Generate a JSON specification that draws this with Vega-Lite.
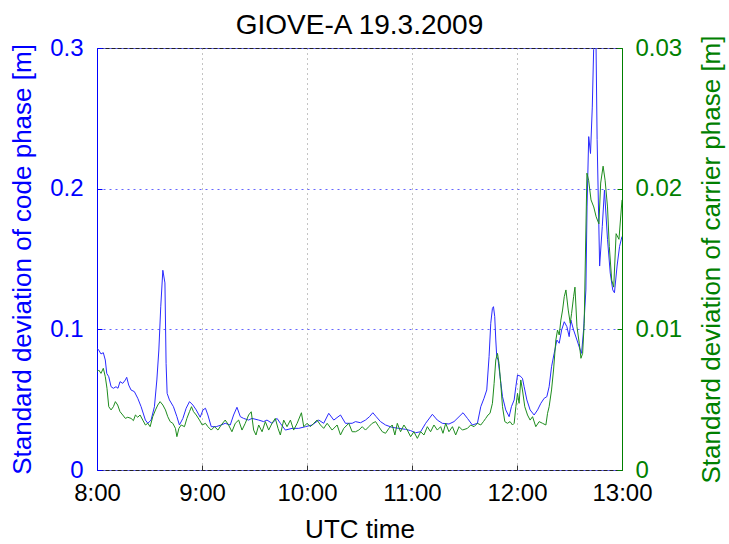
{
  "$schema": "https://vega.github.io/schema/vega-lite/v6.json",
  "autosize": "none",
  "width": 525,
  "height": 422,
  "padding": {"left": 97, "top": 48, "right": 107, "bottom": 74},
  "background": "white",
  "config": {
    "font": "Liberation Sans",
    "view": {"stroke": "#222", "strokeWidth": 1},
    "axis": {"labelFontSize": 24, "titleFontSize": 26, "titleFontWeight": "normal", "labelFont": "Liberation Sans", "titleFont": "Liberation Sans"}
  },
  "title": {"text": "GIOVE-A 19.3.2009", "fontSize": 28, "fontWeight": "normal", "font": "Liberation Sans", "color": "#000", "offset": -5},
  "datasets": {
    "code": [
      {"h": 8.000, "v": 0.0865}, {"h": 8.016, "v": 0.0853}, {"h": 8.038, "v": 0.0825}, {"h": 8.060, "v": 0.0834},
      {"h": 8.079, "v": 0.0782}, {"h": 8.093, "v": 0.0687}, {"h": 8.112, "v": 0.0663}, {"h": 8.134, "v": 0.0592},
      {"h": 8.156, "v": 0.0581}, {"h": 8.181, "v": 0.0592}, {"h": 8.200, "v": 0.0581}, {"h": 8.219, "v": 0.0628},
      {"h": 8.245, "v": 0.0616}, {"h": 8.270, "v": 0.0640}, {"h": 8.283, "v": 0.0659}, {"h": 8.302, "v": 0.0604},
      {"h": 8.324, "v": 0.0569}, {"h": 8.356, "v": 0.0557}, {"h": 8.388, "v": 0.0510}, {"h": 8.420, "v": 0.0450},
      {"h": 8.461, "v": 0.0355}, {"h": 8.484, "v": 0.0332}, {"h": 8.515, "v": 0.0355}, {"h": 8.547, "v": 0.0450},
      {"h": 8.570, "v": 0.0640}, {"h": 8.589, "v": 0.0853}, {"h": 8.607, "v": 0.116}, {"h": 8.627, "v": 0.142},
      {"h": 8.647, "v": 0.133}, {"h": 8.658, "v": 0.0758}, {"h": 8.668, "v": 0.0545}, {"h": 8.690, "v": 0.0498},
      {"h": 8.728, "v": 0.0450}, {"h": 8.761, "v": 0.0379}, {"h": 8.785, "v": 0.0320}, {"h": 8.818, "v": 0.0367},
      {"h": 8.849, "v": 0.0439}, {"h": 8.881, "v": 0.0486}, {"h": 8.913, "v": 0.0462}, {"h": 8.945, "v": 0.0427},
      {"h": 8.983, "v": 0.0375}, {"h": 9.009, "v": 0.0427}, {"h": 9.033, "v": 0.0439}, {"h": 9.056, "v": 0.0391},
      {"h": 9.088, "v": 0.0308}, {"h": 9.135, "v": 0.0308}, {"h": 9.183, "v": 0.0320}, {"h": 9.221, "v": 0.0332},
      {"h": 9.269, "v": 0.0320}, {"h": 9.301, "v": 0.0391}, {"h": 9.333, "v": 0.0446}, {"h": 9.365, "v": 0.0379},
      {"h": 9.396, "v": 0.0367}, {"h": 9.444, "v": 0.0355}, {"h": 9.476, "v": 0.0367}, {"h": 9.540, "v": 0.0355},
      {"h": 9.587, "v": 0.0344}, {"h": 9.619, "v": 0.0355}, {"h": 9.667, "v": 0.0332}, {"h": 9.715, "v": 0.0367},
      {"h": 9.746, "v": 0.0332}, {"h": 9.794, "v": 0.0284}, {"h": 9.858, "v": 0.0296}, {"h": 9.921, "v": 0.0296},
      {"h": 9.985, "v": 0.0308}, {"h": 10.049, "v": 0.0320}, {"h": 10.112, "v": 0.0355}, {"h": 10.159, "v": 0.0332},
      {"h": 10.207, "v": 0.0403}, {"h": 10.255, "v": 0.0355}, {"h": 10.319, "v": 0.0391}, {"h": 10.366, "v": 0.0332},
      {"h": 10.430, "v": 0.0332}, {"h": 10.462, "v": 0.0344}, {"h": 10.510, "v": 0.0336}, {"h": 10.557, "v": 0.0355},
      {"h": 10.595, "v": 0.0379}, {"h": 10.627, "v": 0.0407}, {"h": 10.659, "v": 0.0379}, {"h": 10.700, "v": 0.0344},
      {"h": 10.748, "v": 0.0320}, {"h": 10.812, "v": 0.0303}, {"h": 10.875, "v": 0.0296}, {"h": 10.939, "v": 0.0289},
      {"h": 10.987, "v": 0.0280}, {"h": 11.034, "v": 0.0265}, {"h": 11.082, "v": 0.0272}, {"h": 11.130, "v": 0.0332},
      {"h": 11.194, "v": 0.0396}, {"h": 11.241, "v": 0.0355}, {"h": 11.289, "v": 0.0332}, {"h": 11.352, "v": 0.0327},
      {"h": 11.400, "v": 0.0344}, {"h": 11.448, "v": 0.0379}, {"h": 11.486, "v": 0.0407}, {"h": 11.528, "v": 0.0367},
      {"h": 11.575, "v": 0.0320}, {"h": 11.623, "v": 0.0332}, {"h": 11.655, "v": 0.0450}, {"h": 11.686, "v": 0.0510},
      {"h": 11.712, "v": 0.0569}, {"h": 11.734, "v": 0.0806}, {"h": 11.750, "v": 0.1043}, {"h": 11.766, "v": 0.1149},
      {"h": 11.776, "v": 0.1161}, {"h": 11.788, "v": 0.1090}, {"h": 11.798, "v": 0.0924}, {"h": 11.807, "v": 0.0806},
      {"h": 11.820, "v": 0.0782}, {"h": 11.839, "v": 0.0663}, {"h": 11.862, "v": 0.0521}, {"h": 11.893, "v": 0.0427},
      {"h": 11.925, "v": 0.0379}, {"h": 11.947, "v": 0.0450}, {"h": 11.973, "v": 0.0498}, {"h": 11.989, "v": 0.0592},
      {"h": 12.005, "v": 0.0675}, {"h": 12.030, "v": 0.0668}, {"h": 12.052, "v": 0.0652}, {"h": 12.068, "v": 0.0592},
      {"h": 12.094, "v": 0.0498}, {"h": 12.125, "v": 0.0427}, {"h": 12.163, "v": 0.0391}, {"h": 12.196, "v": 0.0427},
      {"h": 12.227, "v": 0.0474}, {"h": 12.259, "v": 0.0510}, {"h": 12.284, "v": 0.0521}, {"h": 12.306, "v": 0.0592},
      {"h": 12.329, "v": 0.0734}, {"h": 12.354, "v": 0.0829}, {"h": 12.380, "v": 0.0924}, {"h": 12.402, "v": 0.0901},
      {"h": 12.425, "v": 0.0995}, {"h": 12.450, "v": 0.1054}, {"h": 12.475, "v": 0.1019}, {"h": 12.497, "v": 0.0948},
      {"h": 12.513, "v": 0.1066}, {"h": 12.539, "v": 0.0995}, {"h": 12.571, "v": 0.0924}, {"h": 12.602, "v": 0.0853},
      {"h": 12.615, "v": 0.0829}, {"h": 12.634, "v": 0.0995}, {"h": 12.656, "v": 0.128}, {"h": 12.667, "v": 0.187},
      {"h": 12.683, "v": 0.237}, {"h": 12.700, "v": 0.225}, {"h": 12.717, "v": 0.258}, {"h": 12.730, "v": 0.299},
      {"h": 12.750, "v": 0.32}, {"h": 12.763, "v": 0.235}, {"h": 12.787, "v": 0.145}, {"h": 12.812, "v": 0.173},
      {"h": 12.833, "v": 0.199}, {"h": 12.862, "v": 0.164}, {"h": 12.888, "v": 0.140}, {"h": 12.912, "v": 0.128},
      {"h": 12.928, "v": 0.126}, {"h": 12.953, "v": 0.145}, {"h": 12.977, "v": 0.159}, {"h": 13.000, "v": 0.166}
    ],
    "carrier": [
      {"h": 8.000, "v": 0.00699}, {"h": 8.016, "v": 0.00711}, {"h": 8.038, "v": 0.00687}, {"h": 8.060, "v": 0.00723},
      {"h": 8.079, "v": 0.00663}, {"h": 8.095, "v": 0.00581}, {"h": 8.112, "v": 0.00450}, {"h": 8.134, "v": 0.00427},
      {"h": 8.156, "v": 0.00450}, {"h": 8.175, "v": 0.00486}, {"h": 8.197, "v": 0.00462}, {"h": 8.219, "v": 0.00415},
      {"h": 8.245, "v": 0.00391}, {"h": 8.270, "v": 0.00367}, {"h": 8.293, "v": 0.00375}, {"h": 8.324, "v": 0.00367},
      {"h": 8.347, "v": 0.00351}, {"h": 8.366, "v": 0.00391}, {"h": 8.388, "v": 0.00375}, {"h": 8.410, "v": 0.00391},
      {"h": 8.436, "v": 0.00355}, {"h": 8.461, "v": 0.00320}, {"h": 8.484, "v": 0.00332}, {"h": 8.506, "v": 0.00308},
      {"h": 8.531, "v": 0.00379}, {"h": 8.557, "v": 0.00427}, {"h": 8.579, "v": 0.00462}, {"h": 8.601, "v": 0.00486},
      {"h": 8.627, "v": 0.00462}, {"h": 8.652, "v": 0.00427}, {"h": 8.674, "v": 0.00379}, {"h": 8.697, "v": 0.00344},
      {"h": 8.722, "v": 0.00332}, {"h": 8.747, "v": 0.00296}, {"h": 8.761, "v": 0.00237}, {"h": 8.780, "v": 0.00296},
      {"h": 8.802, "v": 0.00320}, {"h": 8.833, "v": 0.00308}, {"h": 8.856, "v": 0.00367}, {"h": 8.881, "v": 0.00415},
      {"h": 8.900, "v": 0.00450}, {"h": 8.919, "v": 0.00415}, {"h": 8.945, "v": 0.00391}, {"h": 8.976, "v": 0.00355},
      {"h": 9.002, "v": 0.00320}, {"h": 9.033, "v": 0.00332}, {"h": 9.056, "v": 0.00308}, {"h": 9.088, "v": 0.00284},
      {"h": 9.119, "v": 0.00308}, {"h": 9.152, "v": 0.00284}, {"h": 9.183, "v": 0.00320}, {"h": 9.221, "v": 0.00355},
      {"h": 9.253, "v": 0.00320}, {"h": 9.285, "v": 0.00272}, {"h": 9.317, "v": 0.00332}, {"h": 9.349, "v": 0.00355},
      {"h": 9.381, "v": 0.00284}, {"h": 9.412, "v": 0.00332}, {"h": 9.444, "v": 0.00391}, {"h": 9.469, "v": 0.00414},
      {"h": 9.492, "v": 0.00284}, {"h": 9.514, "v": 0.00249}, {"h": 9.540, "v": 0.00320}, {"h": 9.572, "v": 0.00272},
      {"h": 9.603, "v": 0.00344}, {"h": 9.635, "v": 0.00284}, {"h": 9.667, "v": 0.00332}, {"h": 9.698, "v": 0.00367},
      {"h": 9.724, "v": 0.00296}, {"h": 9.746, "v": 0.00249}, {"h": 9.778, "v": 0.00355}, {"h": 9.810, "v": 0.00308},
      {"h": 9.842, "v": 0.00355}, {"h": 9.873, "v": 0.00284}, {"h": 9.906, "v": 0.00332}, {"h": 9.947, "v": 0.00407},
      {"h": 9.969, "v": 0.00308}, {"h": 10.001, "v": 0.00332}, {"h": 10.032, "v": 0.00308}, {"h": 10.064, "v": 0.00332},
      {"h": 10.096, "v": 0.00355}, {"h": 10.128, "v": 0.00320}, {"h": 10.159, "v": 0.00296}, {"h": 10.192, "v": 0.00332},
      {"h": 10.239, "v": 0.00284}, {"h": 10.287, "v": 0.00320}, {"h": 10.319, "v": 0.00249}, {"h": 10.350, "v": 0.00296},
      {"h": 10.398, "v": 0.00332}, {"h": 10.430, "v": 0.00272}, {"h": 10.462, "v": 0.00272}, {"h": 10.494, "v": 0.00284},
      {"h": 10.526, "v": 0.00308}, {"h": 10.557, "v": 0.00284}, {"h": 10.589, "v": 0.00308}, {"h": 10.621, "v": 0.00332},
      {"h": 10.653, "v": 0.00344}, {"h": 10.684, "v": 0.00308}, {"h": 10.717, "v": 0.00272}, {"h": 10.748, "v": 0.00261},
      {"h": 10.780, "v": 0.00296}, {"h": 10.812, "v": 0.00320}, {"h": 10.837, "v": 0.00249}, {"h": 10.860, "v": 0.00332},
      {"h": 10.891, "v": 0.00272}, {"h": 10.923, "v": 0.00320}, {"h": 10.955, "v": 0.00284}, {"h": 10.987, "v": 0.00237},
      {"h": 11.018, "v": 0.00272}, {"h": 11.051, "v": 0.00225}, {"h": 11.082, "v": 0.00272}, {"h": 11.114, "v": 0.00249},
      {"h": 11.146, "v": 0.00308}, {"h": 11.177, "v": 0.00272}, {"h": 11.209, "v": 0.00320}, {"h": 11.241, "v": 0.00284},
      {"h": 11.273, "v": 0.00308}, {"h": 11.295, "v": 0.00261}, {"h": 11.321, "v": 0.00332}, {"h": 11.352, "v": 0.00272},
      {"h": 11.385, "v": 0.00308}, {"h": 11.416, "v": 0.00249}, {"h": 11.448, "v": 0.00308}, {"h": 11.480, "v": 0.00284},
      {"h": 11.528, "v": 0.00296}, {"h": 11.559, "v": 0.00320}, {"h": 11.591, "v": 0.00308}, {"h": 11.623, "v": 0.00332},
      {"h": 11.655, "v": 0.00320}, {"h": 11.680, "v": 0.00344}, {"h": 11.702, "v": 0.00367}, {"h": 11.724, "v": 0.00391},
      {"h": 11.743, "v": 0.00403}, {"h": 11.766, "v": 0.00474}, {"h": 11.782, "v": 0.00616}, {"h": 11.798, "v": 0.00782},
      {"h": 11.814, "v": 0.00829}, {"h": 11.829, "v": 0.00758}, {"h": 11.845, "v": 0.00616}, {"h": 11.862, "v": 0.00450},
      {"h": 11.884, "v": 0.00344}, {"h": 11.909, "v": 0.00332}, {"h": 11.934, "v": 0.00344}, {"h": 11.957, "v": 0.00320},
      {"h": 11.973, "v": 0.00332}, {"h": 11.989, "v": 0.00450}, {"h": 12.005, "v": 0.00545}, {"h": 12.020, "v": 0.00474},
      {"h": 12.036, "v": 0.00640}, {"h": 12.052, "v": 0.00569}, {"h": 12.074, "v": 0.00450}, {"h": 12.100, "v": 0.00391},
      {"h": 12.125, "v": 0.00355}, {"h": 12.148, "v": 0.00379}, {"h": 12.179, "v": 0.00308}, {"h": 12.211, "v": 0.00344},
      {"h": 12.243, "v": 0.00332}, {"h": 12.275, "v": 0.00320}, {"h": 12.291, "v": 0.00403}, {"h": 12.306, "v": 0.00450},
      {"h": 12.329, "v": 0.00569}, {"h": 12.348, "v": 0.00711}, {"h": 12.370, "v": 0.00924}, {"h": 12.386, "v": 0.00995},
      {"h": 12.402, "v": 0.00960}, {"h": 12.418, "v": 0.01066}, {"h": 12.434, "v": 0.01137}, {"h": 12.450, "v": 0.01232},
      {"h": 12.466, "v": 0.0128}, {"h": 12.488, "v": 0.01137}, {"h": 12.507, "v": 0.01043}, {"h": 12.520, "v": 0.01114},
      {"h": 12.539, "v": 0.01232}, {"h": 12.552, "v": 0.0130}, {"h": 12.571, "v": 0.01019}, {"h": 12.593, "v": 0.00901},
      {"h": 12.609, "v": 0.00794}, {"h": 12.625, "v": 0.00829}, {"h": 12.640, "v": 0.01043}, {"h": 12.666, "v": 0.0211},
      {"h": 12.682, "v": 0.0206}, {"h": 12.705, "v": 0.0192}, {"h": 12.731, "v": 0.0187}, {"h": 12.754, "v": 0.0180},
      {"h": 12.780, "v": 0.0175}, {"h": 12.797, "v": 0.0204}, {"h": 12.820, "v": 0.0216}, {"h": 12.839, "v": 0.0206},
      {"h": 12.862, "v": 0.0187}, {"h": 12.879, "v": 0.0159}, {"h": 12.902, "v": 0.0135}, {"h": 12.921, "v": 0.0130},
      {"h": 12.944, "v": 0.0168}, {"h": 12.971, "v": 0.0164}, {"h": 13.000, "v": 0.0192}
    ]
  },
  "layer": [
    {
      "data": {"name": "code"},
      "mark": {"type": "line", "color": "#2a2aff", "strokeWidth": 1, "clip": true},
      "encoding": {
        "x": {"field": "h", "type": "quantitative", "scale": {"domain": [8, 13], "nice": false, "zero": false},
          "axis": {"title": "UTC time", "values": [8, 9, 10, 11, 12, 13], "labelExpr": "datum.value + ':00'",
            "labelFlush": false, "labelOverlap": false,
            "grid": true, "gridDash": [1, 4], "gridColor": "#888", "domain": false, "tickColor": "#333", "tickSize": -5,
            "labelColor": "#000", "titleColor": "#000", "labelPadding": 16, "titlePadding": 11}},
        "y": {"field": "v", "type": "quantitative", "scale": {"domain": [0, 0.3], "nice": false},
          "axis": {"orient": "left", "title": "Standard deviation of code phase [m]", "values": [0, 0.1, 0.2, 0.3],
            "labelExpr": "datum.value == 0 ? '0' : format(datum.value, '.1f')",
            "grid": true, "gridDash": [2, 4], "gridColor": "#6666ff", "domain": true, "domainColor": "#0000ff",
            "tickColor": "#0000ff", "tickSize": -5, "labelColor": "#0000ff", "titleColor": "#0000ff", "labelPadding": 19, "titlePadding": 14}}
      }
    },
    {
      "data": {"name": "carrier"},
      "mark": {"type": "line", "color": "#1e8c1e", "strokeWidth": 1, "clip": true},
      "encoding": {
        "x": {"field": "h", "type": "quantitative"},
        "y": {"field": "v", "type": "quantitative", "scale": {"domain": [0, 0.03], "nice": false},
          "axis": {"orient": "right", "title": "Standard deviation of carrier phase [m]", "values": [0, 0.01, 0.02, 0.03],
            "labelExpr": "datum.value == 0 ? '0' : format(datum.value, '.2f')", "titleAngle": 270,
            "grid": false, "domain": true, "domainColor": "#008000",
            "tickColor": "#008000", "tickSize": -5, "labelColor": "#008000", "titleColor": "#008000", "labelPadding": 18, "titlePadding": 43}}
      }
    }
  ],
  "resolve": {"scale": {"y": "independent"}}
}
